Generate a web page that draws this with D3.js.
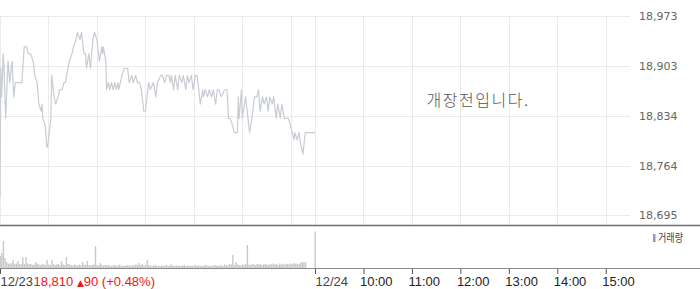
<!DOCTYPE html>
<html><head><meta charset="utf-8">
<script src="https://cdn.jsdelivr.net/npm/d3@7"></script>
<style>
html,body{margin:0;padding:0;background:#fff;}
svg{display:block;}
</style></head>
<body>
<svg id="c" width="700" height="289"></svg>
<script>
// ---- data ----
// minutes after 09:00 on 12/23 (session 09:00-15:30 = 390 min)
const priceMinutes = [0,1,2,4,5,7,10,12,15,17,19,27,30,33,35,38,41,43,46,48,51,52,53,56,58,59,62,63,64,67,69,72,74,77,79,81,84,86,89,91,94,96,99,101,104,106,107,110,112,115,117,120,123,126,127,128,131,132,134,136,138,140,142,144,146,147,149,151,154,158,160,163,165,168,170,173,175,178,180,183,184,186,190,193,195,199,201,204,206,209,211,212,215,217,220,222,225,227,230,232,234,237,239,242,244,248,251,252,254,257,259,262,264,267,269,271,274,278,281,283,285,288,290,294,295,296,299,300,304,306,309,312,315,318,320,322,325,327,330,332,334,337,339,342,344,347,349,352,354,357,362,364,365,368,370,373,375,378,390];
const prices = [18720,18900,18860,18920,18900,18830,18910,18880,18910,18860,18880,18880,18930,18930,18920,18920,18910,18890,18880,18850,18840,18850,18830,18820,18790,18790,18820,18830,18890,18860,18850,18860,18870,18870,18880,18880,18900,18910,18920,18930,18940,18950,18940,18950,18920,18920,18900,18920,18900,18940,18950,18940,18910,18930,18920,18930,18910,18870,18880,18870,18880,18870,18880,18870,18880,18870,18880,18890,18900,18900,18880,18890,18880,18890,18880,18880,18870,18840,18840,18870,18880,18870,18880,18860,18880,18890,18890,18880,18890,18890,18880,18890,18870,18890,18870,18890,18880,18890,18870,18890,18880,18890,18870,18890,18890,18850,18870,18860,18870,18860,18870,18860,18870,18850,18870,18870,18860,18870,18870,18830,18830,18820,18810,18810,18860,18830,18870,18830,18860,18840,18810,18830,18860,18860,18870,18840,18860,18850,18860,18840,18860,18850,18860,18830,18850,18830,18850,18830,18830,18830,18810,18800,18810,18800,18810,18790,18780,18810,18810];
// volume per 2-minute bucket (hundreds of shares), plus closing auction at 15:30
const volumeMinutes = d3.range(0, 380, 2).concat([390]);
const volumes = [
120,150,270,100,60,45,40,50,80,40,
45,70,40,35,110,40,110,45,35,40,
30,35,60,40,35,30,40,35,30,80,
35,30,80,40,30,35,40,30,70,35,
30,110,40,35,30,25,35,30,25,35,
30,60,30,35,70,30,25,30,35,220,
30,25,50,30,25,30,25,30,25,20,
25,30,20,25,35,20,25,20,25,30,
25,20,30,25,35,30,50,30,40,25,
30,80,30,25,20,25,30,20,25,20,
25,20,25,30,20,25,35,25,20,25,
20,25,20,25,30,20,25,20,25,20,
25,30,20,25,20,25,20,30,25,20,
25,20,25,30,25,20,30,25,20,35,
30,25,40,35,130,30,60,35,30,25,
35,30,40,230,35,30,40,35,30,40,
35,40,30,35,40,35,30,40,35,45,
35,40,30,45,35,40,35,45,40,35,
45,40,50,40,45,40,50,60,55,60,
365];
const yTicks = [18695,18764,18834,18903,18973];
const gridMinutes = [0,60,120,180,240,300,360,390,450,510,570,630,690,750];
const xTickMinutes = [0,390,450,510,570,630,690,750];
const xTickLabels = ["12/23","12/24","10:00","11:00","12:00","13:00","14:00","15:00"];
const lastPrice = "18,810", change = "90", changePct = "(+0.48%)";
const notice = "개장전입니다.";
const legendLabel = "거래량";

// ---- drawing ----
const svg = d3.select("#c");
const x = d3.scaleLinear().domain([0, 780]).range([0, 630]);
const y = d3.scaleLinear().domain([18695, 18973]).range([215, 16]);
const yv = d3.scaleLinear().domain([0, 370]).range([268, 231]);

// grid
svg.append("g").selectAll("line").data(yTicks).join("line")
  .attr("x1", 0).attr("x2", 630)
  .attr("y1", d => Math.round(y(d)) + 0.5).attr("y2", d => Math.round(y(d)) + 0.5)
  .attr("stroke", "#ebebeb");
svg.append("g").selectAll("line").data(gridMinutes).join("line")
  .attr("x1", d => Math.round(x(d)) + 0.5).attr("x2", d => Math.round(x(d)) + 0.5)
  .attr("y1", 16).attr("y2", 225)
  .attr("stroke", "#ebebeb");

// price line
const line = d3.line().x((d, i) => x(priceMinutes[i])).y(d => y(d));
svg.append("path").datum(prices).attr("d", line)
  .attr("fill", "none").attr("stroke", "#c8ccd3").attr("stroke-width", 1.2)
  .attr("stroke-linejoin", "round");

// y axis labels
const yAxis = d3.axisRight(y).tickValues(yTicks).tickSize(0).tickPadding(0)
  .tickFormat(d3.format(","));
const ga = svg.append("g").attr("transform", "translate(639,0)").call(yAxis);
ga.select(".domain").remove();
ga.selectAll("text").attr("fill", "#666").attr("font-family", "DejaVu Sans").attr("font-size", 11);

// separator
svg.append("line").attr("x1", 0).attr("x2", 700).attr("y1", 225.5).attr("y2", 225.5)
  .attr("stroke", "#6f6f6f").attr("stroke-width", 1.5);

// volume bars
svg.append("g").selectAll("rect").data(volumes).join("rect")
  .attr("x", (d, i) => x(volumeMinutes[i]) - 0.5)
  .attr("width", 1.4)
  .attr("y", d => yv(d))
  .attr("height", d => yv(0) - yv(d))
  .attr("fill", "#c9c9c9");

// bottom axis
const xAxis = d3.axisBottom(x).tickValues(xTickMinutes).tickSize(6).tickPadding(3)
  .tickFormat((d, i) => xTickLabels[i]);
const gx = svg.append("g").attr("transform", "translate(0,268)").call(xAxis);
gx.select(".domain").remove();
gx.selectAll(".tick line").attr("stroke", "#555");
gx.selectAll(".tick text")
  .attr("text-anchor", "start")
  .attr("dx", (d, i) => i < 2 ? 0 : -4)
  .attr("fill", (d, i) => i < 2 ? "#444" : "#222")
  .attr("font-family", "Liberation Sans").attr("font-size", 13);
svg.append("line").attr("x1", 0).attr("x2", 700).attr("y1", 268.5).attr("y2", 268.5)
  .attr("stroke", "#8a8a8a");

// last price info
const info = svg.append("text").attr("x", 33.5).attr("y", 286)
  .attr("fill", "#f0141e").attr("font-family", "Liberation Sans").attr("font-size", 13);
info.append("tspan").text(lastPrice + " ");
info.append("tspan").attr("font-size", 9).attr("font-family", "DejaVu Sans").text("▲");
info.append("tspan").text(change + " " + changePct);

// notice
svg.append("text").attr("x", 478).attr("y", 106).attr("text-anchor", "middle")
  .attr("fill", "#555").attr("font-family", "Noto Sans CJK KR").attr("font-weight", 300)
  .attr("font-size", 16).attr("letter-spacing", 1.5).text(notice);

// legend
svg.append("rect").attr("x", 653).attr("y", 234).attr("width", 2.5).attr("height", 8).attr("fill", "#9b8ec9");
svg.append("text").attr("x", 658).attr("y", 242).attr("fill", "#444")
  .attr("font-family", "Noto Sans CJK KR").attr("font-size", 11)
  .attr("textLength", 25).attr("lengthAdjust", "spacingAndGlyphs").text(legendLabel);
</script>
</body></html>
